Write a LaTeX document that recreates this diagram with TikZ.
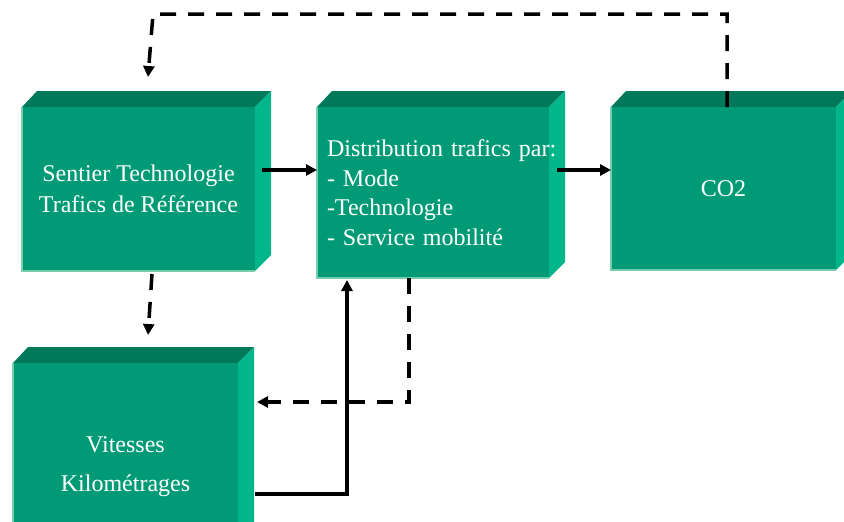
\documentclass[tikz,border=0pt]{standalone}
\usepackage{fontspec}
\setmainfont{Liberation Serif}
\usepackage{xcolor}
\usetikzlibrary{arrows.meta,backgrounds}
\definecolor{frt}{RGB}{0,155,118}
\definecolor{tp}{RGB}{0,120,90}
\definecolor{sd}{RGB}{0,182,138}
\definecolor{edg}{RGB}{120,205,175}

\tikzset{
  blok/.style={rectangle, fill=frt, inner sep=0pt, outer sep=0pt,
    text=white, align=center, font=\fontsize{24}{31}\selectfont},
  arr/.style={line width=3.5pt, -{Triangle[length=11pt,width=11pt]}},
  dasharr/.style={arr, dash pattern=on 16pt off 12pt},
}

\begin{document}
\begin{tikzpicture}[x=1pt, y=-1pt]
      \useasboundingbox (0,0) rectangle (844,522);
      \clip (0,0) rectangle (844,522);
      \node[blok, minimum width=233pt, minimum height=164pt] (sentier) at (138.5,189) {Sentier Technologie\\Trafics de Référence};
      \node[blok, minimum width=232pt, minimum height=171pt, align=left, text width=212pt, inner xsep=10pt,
        font=\fontsize{24}{29.5}\selectfont] (distrib) at (433,192.5) {\mbox{Distribution trafics par:}\\- Mode\\-Technologie\\- Service mobilité};
      \node[blok, minimum width=225pt, minimum height=163pt] (co) at (723.5,188.5) {CO2};
      \node[blok, minimum width=225pt, minimum height=207pt, font=\fontsize{24}{39}\selectfont] (vitesse) at (125.5,466.5) {Vitesses\\Kilométrages};
      \begin{scope}[on background layer]
      \foreach \b in {sentier,distrib,co,vitesse} {
        \fill[tp] (\b.north west) -- ++(15,-16) -- ([shift={(16,-16)}]\b.north east) -- (\b.north east) -- cycle;
        \fill[sd] (\b.north east) -- ++(16,-16) -- ([shift={(16,-16)}]\b.south east) -- (\b.south east) -- cycle;
      }
      \end{scope}
      \foreach \b in {sentier,distrib,co,vitesse}
        \draw[edg, line width=1.5pt] (\b.north west) -- (\b.south west) -- (\b.south east);
      \coordinate (haut) at (153,14);
      \draw[arr] ([xshift=7pt,yshift=19pt]sentier.east) -- ([yshift=22.5pt]distrib.west);
      \draw[arr] ([xshift=8pt,yshift=22.5pt]distrib.east) -- ([yshift=18.5pt]co.west);
      \draw[dasharr] ([xshift=3.5pt]co.north) |- (haut) -- ([xshift=9.5pt,yshift=30pt]sentier.north);
      \draw[dasharr] ([xshift=13.5pt,yshift=-3pt]sentier.south) -- ([xshift=22.5pt,yshift=28pt]vitesse.north);
      \draw[dasharr] ([xshift=-24pt]distrib.south) |- ([xshift=19pt,yshift=64.5pt]vitesse.east);
      \draw[arr] ([xshift=17pt,yshift=-27.5pt]vitesse.east) -| ([xshift=-86pt,yshift=-2pt]distrib.south);
    \end{tikzpicture}
\end{document}
